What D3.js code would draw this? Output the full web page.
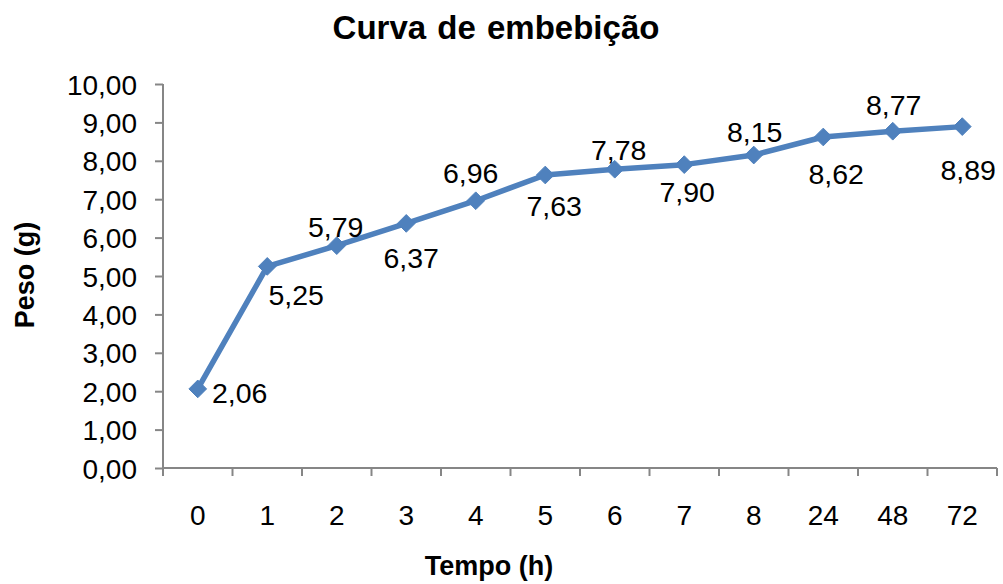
<!DOCTYPE html>
<html>
<head>
<meta charset="utf-8">
<script src="https://cdn.jsdelivr.net/npm/d3@7"></script>
<style>
  html, body { margin: 0; padding: 0; background: #fff; }
  svg { display: block; font-family: "Liberation Sans", Arial, sans-serif; }
</style>
</head>
<body>
<svg id="chart" width="1003" height="584"></svg>
<script>
// ---- data ----
const categories = ["0", "1", "2", "3", "4", "5", "6", "7", "8", "24", "48", "72"];
const values = [2.06, 5.25, 5.79, 6.37, 6.96, 7.63, 7.78, 7.90, 8.15, 8.62, 8.77, 8.89];
const yTicks = [0, 1, 2, 3, 4, 5, 6, 7, 8, 9, 10];
const chartTitle = "Curva de embebição";
const xTitle = "Tempo (h)";
const yTitle = "Peso (g)";

// ---- label placement (style: offsets of label centre from its point) ----
const labelDx = [42, 29, -1, 5, -5, 9, 4, 3, 1, 13, 1, 6];
const labelDy = [4, 29, -19, 35, -28, 31, -19, 27, -23, 37, -26, 43];

(function () {
const fmt = v => d3.format(".2f")(v).replace(".", ",");

const svg = d3.select("#chart");
const pLeft = 163, pRight = 997, pTop = 84, pBottom = 468;

const x = d3.scaleBand().domain(categories).range([pLeft, pRight]).paddingInner(0).paddingOuter(0);
const y = d3.scaleLinear().domain([0, 10]).range([pBottom, pTop]);

const axisColor = "#868686";

// title
svg.append("text")
  .attr("x", 496).attr("y", 27)
  .attr("text-anchor", "middle").attr("dominant-baseline", "central")
  .attr("font-size", 33).attr("font-weight", "bold").attr("fill", "#000")
  .attr("word-spacing", 2)
  .text(chartTitle);

// y axis
const yAxis = d3.axisLeft(y).tickValues(yTicks).tickSize(8).tickFormat(fmt);
const gy = svg.append("g").attr("transform", `translate(${pLeft},0)`).call(yAxis);
gy.select(".domain").attr("stroke", axisColor).attr("stroke-width", 2).attr("d", `M0,${pTop}V${pBottom}`);
gy.selectAll(".tick line").attr("stroke", axisColor).attr("stroke-width", 2);
gy.selectAll(".tick text")
  .attr("x", -26).attr("dy", "0.36em")
  .attr("font-size", 28).attr("fill", "#000")
  .attr("font-family", "Liberation Sans, Arial, sans-serif");

// x axis (ticks at band boundaries)
const gx = svg.append("g").attr("transform", `translate(0,${pBottom})`);
gx.append("line").attr("x1", pLeft).attr("x2", pRight).attr("y1", 0).attr("y2", 0)
  .attr("stroke", axisColor).attr("stroke-width", 2);
const boundaries = categories.map(c => x(c)).concat([x(categories[categories.length - 1]) + x.bandwidth()]);
gx.selectAll("line.tk").data(boundaries).join("line").attr("class", "tk")
  .attr("x1", d => d).attr("x2", d => d).attr("y1", 0).attr("y2", 8)
  .attr("stroke", axisColor).attr("stroke-width", 2);
gx.selectAll("text.lbl").data(categories).join("text").attr("class", "lbl")
  .attr("x", d => x(d) + x.bandwidth() / 2).attr("y", 47)
  .attr("text-anchor", "middle").attr("dominant-baseline", "central")
  .attr("font-size", 28).attr("fill", "#000")
  .text(d => d);

// axis titles
svg.append("text")
  .attr("transform", "translate(25,275) rotate(-90)")
  .attr("text-anchor", "middle").attr("dominant-baseline", "central")
  .attr("font-size", 27).attr("font-weight", "bold").attr("fill", "#000")
  .text(yTitle);
svg.append("text")
  .attr("x", 489).attr("y", 566)
  .attr("text-anchor", "middle").attr("dominant-baseline", "central")
  .attr("font-size", 27).attr("font-weight", "bold").attr("fill", "#000")
  .text(xTitle);

// line
const pts = categories.map((c, i) => ({ c, v: values[i], i }));
const cx = d => x(d.c) + x.bandwidth() / 2;
const line = d3.line().x(cx).y(d => y(d.v));
const blue = "#4F81BD";
svg.append("path").datum(pts)
  .attr("d", line).attr("fill", "none")
  .attr("stroke", blue).attr("stroke-width", 5.5).attr("stroke-linejoin", "round");

// markers (diamonds)
const diamond = d3.symbol().type(d3.symbolDiamond2).size(200);
svg.selectAll("path.mk").data(pts).join("path").attr("class", "mk")
  .attr("transform", d => `translate(${cx(d)},${y(d.v)})`)
  .attr("d", diamond).attr("fill", blue).attr("stroke", blue).attr("stroke-width", 1);

// data labels
svg.selectAll("text.dl").data(pts).join("text").attr("class", "dl")
  .attr("x", d => cx(d) + labelDx[d.i])
  .attr("y", d => y(d.v) + labelDy[d.i])
  .attr("text-anchor", "middle").attr("dominant-baseline", "central")
  .attr("font-size", 28.5).attr("fill", "#000")
  .text(d => fmt(d.v));
})();
</script>
</body>
</html>
